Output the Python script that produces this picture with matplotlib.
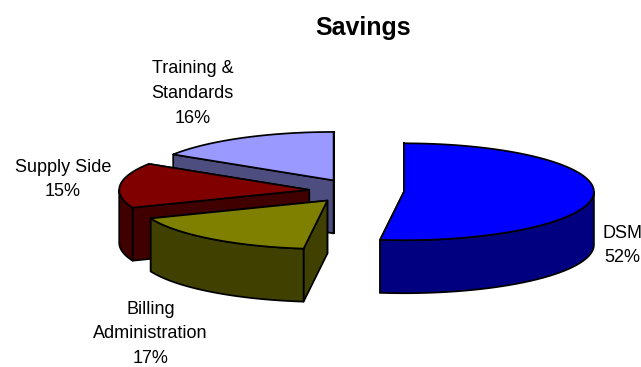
import numpy as np
import matplotlib
matplotlib.use("Agg")
import matplotlib.pyplot as plt
from matplotlib.patches import Polygon

plt.rcParams['font.family'] = ['Liberation Sans', 'DejaVu Sans']

labels = ['DSM', 'Billing\nAdministration', 'Supply Side', 'Training &\nStandards']
values = [52, 17, 15, 16]
top_colors = ['#0000ff', '#808000', '#800000', '#9999ff']
side_colors = ['#000080', '#404000', '#400000', '#4d4d80']

# pie geometry in pixels
cx, cy = 356.5, 191
rx = 190
tilt = 0.255
explode = 47.5
depth = 53

# label centres, one per slice
label_pos = [(622, 245.5), (150.5, 334), (63, 179.5), (192.5, 93.5)]

fig = plt.figure(figsize=(6.41, 3.67), dpi=100)
ax = fig.add_axes([0, 0, 1, 1])
ax.set_xlim(0, 641)
ax.set_ylim(367, 0)
ax.axis('off')


def point(theta, r, ox, oy):
    # theta is clockwise from 12 o'clock, in degrees
    t = np.radians(theta)
    return ox + r * np.sin(t), oy - r * tilt * np.cos(t)


def extrude(xs, ys):
    xs = np.asarray(xs)
    ys = np.asarray(ys)
    return np.column_stack([np.r_[xs, xs[::-1]], np.r_[ys, ys[::-1] + depth]])


def draw_poly(pts, color):
    ax.add_patch(Polygon(pts, closed=True, facecolor=color, edgecolor='black',
                         linewidth=1.25, joinstyle='round'))


def draw_slice(start, end, top, side):
    mid = (start + end) / 2
    ox, oy = point(mid, explode, cx, cy)
    ends = sorted([start, end], key=lambda a: point(a, rx, ox, oy)[1])

    # radial walls, the one further back goes first
    for a in ends:
        ex, ey = point(a, rx, ox, oy)
        draw_poly(extrude([ox, ex], [oy, ey]), side)

    # outer rim, only the front half of the circle shows
    lo, hi = max(start, 90), min(end, 270)
    if hi > lo:
        ang = np.linspace(lo, hi, 80)
        rim_x, rim_y = point(ang, rx, ox, oy)
        draw_poly(extrude(rim_x, rim_y), side)

    ang = np.linspace(start, end, 120)
    arc_x, arc_y = point(ang, rx, ox, oy)
    draw_poly(np.column_stack([np.r_[ox, arc_x], np.r_[oy, arc_y]]), top)


edges = np.r_[0, np.cumsum(values)] * 360 / sum(values)

# back to front
for i in [3, 2, 1, 0]:
    draw_slice(edges[i], edges[i + 1], top_colors[i], side_colors[i])

for name, val, (x, y) in zip(labels, values, label_pos):
    ax.text(x, y, f'{name}\n{val}%', ha='center', va='center', fontsize=13,
            linespacing=1.6, color='black')

ax.text(363, 27.5, 'Savings', ha='center', va='center', fontsize=18, fontweight='bold')

fig.savefig('out.png', dpi=100)
